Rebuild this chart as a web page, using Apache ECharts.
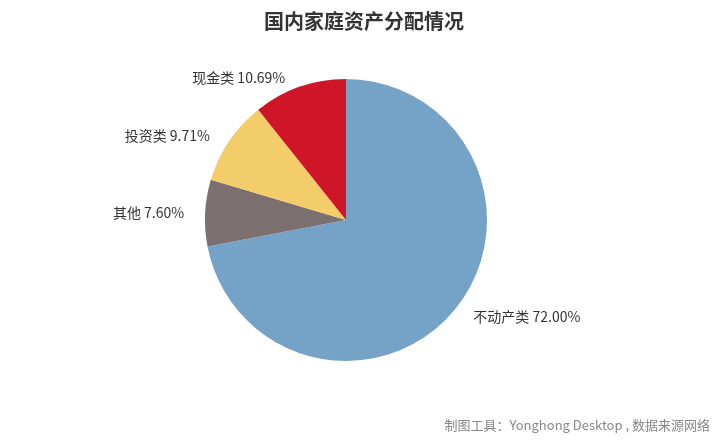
<!DOCTYPE html><html><head><meta charset="utf-8"><script src="https://cdn.jsdelivr.net/npm/echarts@6/dist/echarts.min.js"></script></head><body style="margin:0"><div id="c" style="width:728px;height:444px"></div><script>
const categories=["不动产类","其他","投资类","现金类"];
const values=[72.00,7.60,9.71,10.69];
const colors=["#75a3c8","#7b706f","#f2cd69","#cf1528"];
const c=echarts.init(document.getElementById('c'));
c.setOption({
title:{text:"国内家庭资产分配情况",left:"center",top:6,textStyle:{fontSize:20,fontWeight:"bold",color:"#333",fontFamily:"Noto Sans CJK SC"}},
graphic:[{type:"text",right:18,bottom:12,style:{text:"制图工具：Yonghong Desktop , 数据来源网络",fontSize:13,fill:"#888",fontFamily:"Noto Sans CJK SC"}}],
series:[{type:"pie",center:[346,220],radius:141,startAngle:90,clockwise:true,animation:false,
label:{formatter:p=>p.name+" "+p.value.toFixed(2)+"%",fontSize:14,color:"#333",fontFamily:"Noto Sans CJK SC"},
labelLine:{show:false,length:10,length2:6},
data:categories.map((n,i)=>({name:n,value:values[i],itemStyle:{color:colors[i]}}))}]
});
</script></body></html>
